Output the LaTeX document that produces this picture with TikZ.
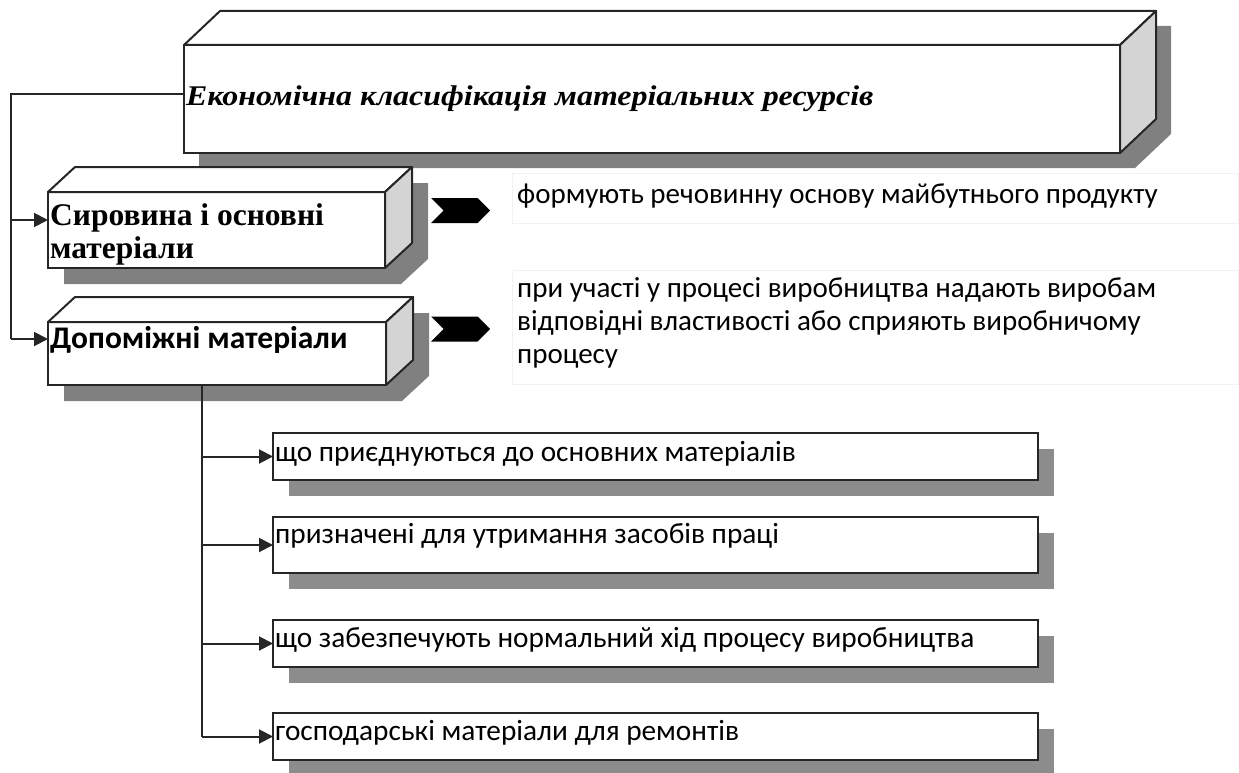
\documentclass[tikz,border=0pt]{standalone}
\usepackage{fontspec}
\setmainfont{Liberation Serif}
\newfontfamily\calfont{Carlito}
\newfontfamily\headfont[FakeStretch=1.12]{Liberation Serif}
\usetikzlibrary{arrows.meta,calc,shapes.symbols}
\definecolor{shadowgray}{HTML}{808080}
\definecolor{shadowlight}{HTML}{8C8C8C}
\definecolor{sidegray}{HTML}{D4D4D4}
\definecolor{faintedge}{HTML}{F2F2F2}

% front face of a raised box; top and right faces plus drop shadow are added by \raisedbox
\newcommand\raisedbox[8]{% name, x, y, width, height, depth x, depth y, shadow offset
  \fill[shadowgray] ($(#2,#3)+(#8,#8)$) -- ++(#6,#7) -- ++(#4,0) -- ++(0,#5) -- ++(-#6,-#7) -- ++(-#4,0) -- cycle;
  \node[face, minimum width=#4pt, minimum height=#5pt, anchor=north west] (#1) at (#2,#3) {};
  \draw[facestroke, fill=white] (#1.north west) -- ++(#6,#7) -- ($(#1.north east)+(#6,#7)$) -- (#1.north east) -- cycle;
  \draw[facestroke, fill=sidegray] (#1.north east) -- ++(#6,#7) -- ($(#1.south east)+(#6,#7)$) -- (#1.south east) -- cycle;
}
% flat box with a drop shadow
\newcommand\flatbox[5]{% name, x, y, width, height
  \fill[shadowlight] ($(#2,#3)+(16,16)$) rectangle ++(#4,#5);
  \node[face, minimum width=#4pt, minimum height=#5pt, anchor=north west] (#1) at (#2,#3) {};
}

\begin{document}
\begin{tikzpicture}[x=1pt,y=-1pt,
  face/.style={draw=black!85, line width=2pt, fill=white, inner sep=0pt, outer sep=0pt},
  facestroke/.style={draw=black!85, line width=2pt, line join=round},
  conn/.style={draw=black!85, line width=2pt},
  arr/.style={conn, -{Triangle[length=14pt,width=14pt]}},
  chev/.style={shape=signal, signal from=west, signal to=east, fill=black,
    minimum width=59pt, minimum height=25pt, inner sep=0pt},
  head/.style={font=\headfont\fontsize{28.5}{32}\selectfont\bfseries\itshape, inner sep=0pt, anchor=base west},
  sertext/.style={font=\fontsize{31.5}{33}\selectfont\bfseries, inner sep=0pt, anchor=base west, align=left},
  sansbold/.style={font=\calfont\fontsize{31.5}{33}\selectfont\bfseries, inner sep=0pt, anchor=base west},
  desc/.style={font=\calfont\fontsize{29}{33}\selectfont, inner sep=0pt, anchor=base west, align=left},
  item/.style={font=\calfont\fontsize{29.3}{33}\selectfont, inner sep=0pt, anchor=base west},
  textframe/.style={draw=faintedge, line width=1pt, inner sep=0pt, anchor=north west}
]
\useasboundingbox (0,0) rectangle (1239,773);

% faint frames behind the explanations
\node[textframe, minimum width=726pt, minimum height=50pt] (f1) at (512,173) {};
\node[textframe, minimum width=726pt, minimum height=114pt] (f2) at (512,270) {};

% raised boxes
\raisedbox{top}{184}{45}{936}{108}{36}{-34}{15}
\raisedbox{raw}{48}{192}{337}{76}{27}{-25}{16}
\raisedbox{aux}{48}{322}{338}{63}{27}{-25}{16}

% sub-type boxes
\flatbox{s1}{273}{433}{765}{47}
\flatbox{s2}{273}{517}{765}{56}
\flatbox{s3}{273}{620}{765}{47}
\flatbox{s4}{273}{713}{765}{47}

% labels (multi-line nodes are placed by the baseline of their last line)
\node[head] (tt) at (186,106) {Економічна класифікація матеріальних ресурсів};
\node[sertext] (rt) at (50,258) {Сировина і основні\\матеріали};
\node[sansbold] (at) at (50,348) {Допоміжні матеріали};

\node[desc] (d1) at (517,203) {формують речовинну основу майбутнього продукту};
\node[desc] (d2) at (517,363) {при участі у процесі виробництва надають виробам\\відповідні властивості або сприяють виробничому\\процесу};

\node[item] (i1) at (275,461) {що приєднуються до основних матеріалів};
\node[item] (i2) at (275,543) {призначені для утримання засобів праці};
\node[item] (i3) at (275,647) {що забезпечують нормальний хід процесу виробництва};
\node[item] (i4) at (275,740) {господарські матеріали для ремонтів};

% chevrons
\node[chev] (c1) at (460.5,210.5) {};
\node[chev] (c2) at (460.5,329) {};

% left trunk
\coordinate (t1) at (11,220);
\coordinate (t2) at (11,339);
\draw[conn] ([yshift=5pt]top.west) -| (t2);
\draw[arr] (t1) -- (t1 -| raw.west);
\draw[arr] (t2) -- (t2 -| aux.west);

% lower trunk
\coordinate (u) at (202,737);
\draw[conn] (u |- aux.south) -- (u);
\draw[arr] (u |- s1.west) -- (s1.west);
\draw[arr] (u |- s2.west) -- (s2.west);
\draw[arr] (u |- s3.west) -- (s3.west);
\draw[arr] (u |- s4.west) -- (s4.west);
\end{tikzpicture}
\end{document}
